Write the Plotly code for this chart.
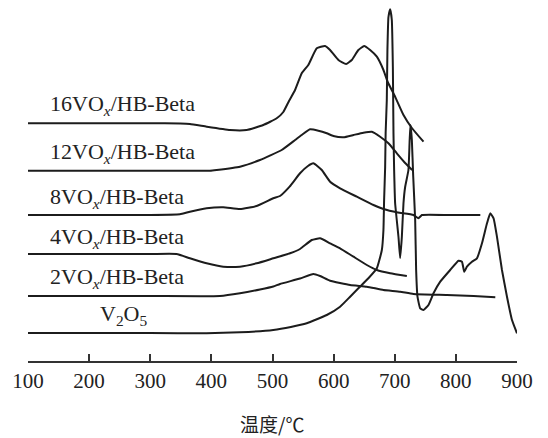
import plotly.graph_objects as go

# Temperature (°C) and signal (a.u.)
t_16 = [100, 300, 349, 364.9, 392.2, 430.4, 457.7, 484.9, 506.9, 517.7, 527, 536.9, 547.8, 558.6,
        572.4, 586, 594.2, 607.8, 620.4, 629.7, 640.5, 649.9, 659.7, 670.7, 681.5, 688.5,
        700.6, 714.3, 728, 747]
i_16 = [237.7, 237.7, 237.5, 237, 234.3, 231, 231, 236, 242.7, 249, 260, 271, 287.7, 296,
        312.7, 315, 311, 301, 297, 301, 311, 315, 311, 304.3, 291, 279,
        264.3, 246, 233, 219.3]

t_12 = [100, 300, 397.6, 408.6, 446.8, 479.5, 515, 537, 547.8, 561.4, 575, 588.8, 599.6, 616,
        632.4, 648.7, 662.5, 676.1, 689.7, 703.4, 717, 728.5]
i_12 = [190.3, 190.3, 190.3, 191, 194.3, 201, 211, 221, 226, 231.7, 230.3, 227.7, 225, 223.7,
        226, 228.3, 229.3, 224.3, 217.7, 207.7, 198, 191]

t_8 = [100, 300, 348.5, 364.9, 392.2, 419.4, 446.8, 474, 501.3, 512.3, 528, 545, 558, 566.8,
       580.6, 594.2, 610.6, 637.9, 665.1, 681.5, 705, 730.6, 738.8, 744.4, 790, 840]
i_8 = [146, 146, 146.7, 149.3, 152.7, 153.7, 152, 155, 162.7, 165, 174.3, 187.7, 195, 197.7,
       191, 179.3, 172.7, 164.3, 156, 152, 148.5, 146, 142.7, 146, 146, 146]

t_4 = [100, 300, 343.1, 364.9, 392.2, 419.4, 446.8, 474.1, 501.3, 528.7, 545, 564.2, 577.8,
       594.2, 610.6, 632.4, 654.3, 670.7, 692.5, 719.8]
i_4 = [107, 107, 107, 102.7, 97.7, 94.3, 94.3, 97.7, 102.7, 107.7, 112, 121, 122.7,
       117.7, 112.7, 104.3, 96, 91, 87.7, 85]

t_2 = [100, 300, 414, 446.8, 479.5, 501.3, 512.3, 545, 566.8, 577.8, 594.2, 627, 654.3, 681.5,
       708.8, 730.6, 785.3, 828.9, 864.5]
i_2 = [65, 65, 65, 67.7, 71.5, 74.5, 77, 82.5, 87, 85, 80.3, 76, 74.3, 71,
       69.3, 67, 66, 65, 63.7]

t_v = [100, 300, 392.2, 446.8, 501.3, 530, 556, 588.8, 610.6, 627, 640.5, 656.9, 670.7, 678.9,
       681.5, 682.6, 684.3, 685.1, 687, 688, 689.7, 692.5, 695.2, 696.9, 697.9, 699, 700.6,
       706.1, 708.8, 711.6, 714.3, 717, 722.4, 724.4, 725.7, 728, 730.1, 733.4, 735, 737.2,
       741.6, 747, 755.2, 763.4, 774.4, 790.7, 804.3, 809.9, 813.7, 818.1, 826.3, 834.5,
       842.7, 850.9, 856.3, 861.7, 867.2, 875.4, 883.6, 891.8, 900]
i_v = [28, 28, 27.7, 28.7, 31, 34, 37.7, 46, 54.3, 64.3, 72.7, 82.7, 92.7, 111,
       131, 161, 194, 228, 261, 311, 344, 351.7, 341, 294, 228, 191, 158,
       124, 103, 124, 158, 174, 191, 221, 236, 221, 186, 141, 91, 64.3,
       52.7, 51, 56, 67.7, 79.3, 91, 100.3, 99.3, 89.3, 94.3, 99.3, 102.7,
       117.7, 137.7, 147.7, 142.7, 124.3, 91, 64.3, 41, 27.7]

labels = ["16VO<sub><i>x</i></sub>/HB-Beta", "12VO<sub><i>x</i></sub>/HB-Beta",
          "8VO<sub><i>x</i></sub>/HB-Beta", "4VO<sub><i>x</i></sub>/HB-Beta",
          "2VO<sub><i>x</i></sub>/HB-Beta", "V<sub>2</sub>O<sub>5</sub>"]
label_levels = [256, 207.7, 162.7, 122.7, 82.7, 46]
x_ticks = [100, 200, 300, 400, 500, 600, 700, 800, 900]

series = [(t_16, i_16), (t_12, i_12), (t_8, i_8), (t_4, i_4), (t_2, i_2), (t_v, i_v)]

fig = go.Figure()
for (tx, iy), name in zip(series, labels):
    fig.add_trace(go.Scatter(x=tx, y=iy, mode="lines", name=name,
                             line=dict(color="#1c1c1c", width=2, shape="spline", smoothing=0.4),
                             showlegend=False, hoverinfo="skip"))

serif = "Liberation Serif, Times New Roman, serif"
for k, (txt, lv) in enumerate(zip(labels, label_levels)):
    fig.add_annotation(x=0.1438 if k == 5 else 0.0415, xref="paper", xanchor="left",
                       y=lv, yref="y", yanchor="middle", text=txt, showarrow=False,
                       font=dict(family=serif, size=22, color="#222"))

fig.add_annotation(x=0.499, xref="paper", y=-0.172, yref="paper", yanchor="middle",
                   xanchor="center", text="温度/℃", showarrow=False,
                   font=dict(family="Noto Sans CJK SC", size=19, color="#222"))

fig.update_layout(
    width=548, height=438,
    margin=dict(l=28, r=31, t=0, b=77),
    paper_bgcolor="white", plot_bgcolor="white",
    hovermode=False,
    xaxis=dict(range=[100, 900], tickvals=x_ticks, ticktext=[str(v) for v in x_ticks],
               ticks="inside", ticklen=7, tickwidth=1.5, tickcolor="#333",
               showline=True, linecolor="#333", linewidth=1.5, showgrid=False,
               zeroline=False, tickfont=dict(family=serif, size=21, color="#222")),
    yaxis=dict(range=[0, 361], visible=False, showgrid=False, zeroline=False),
)

fig.write_html("out.html", config={"displayModeBar": False},
               post_script="document.body.style.margin='0';document.body.style.padding='0';")
